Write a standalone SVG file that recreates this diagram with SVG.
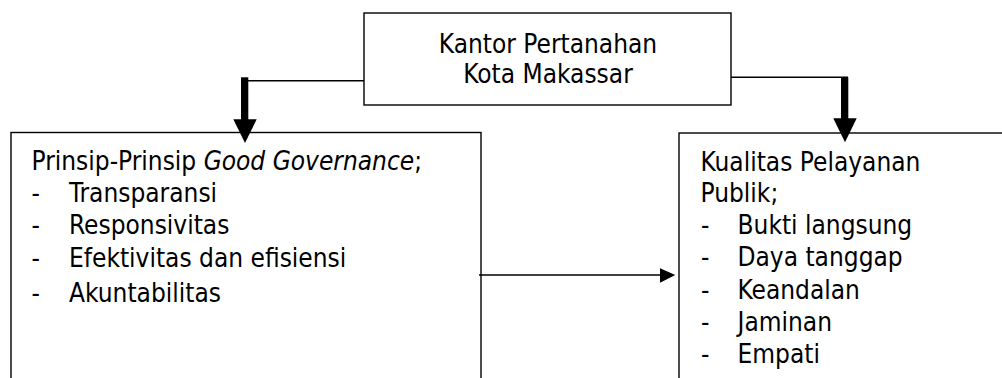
<svg xmlns="http://www.w3.org/2000/svg" width="1002" height="378" viewBox="0 0 1002 378">
<style>
.box{fill:#fff;stroke:#000;stroke-width:1.4}
.t{font-family:"DejaVu Sans Condensed","DejaVu Sans",sans-serif;font-size:26px;fill:#000}
.c{stroke:#000;stroke-width:1.4;fill:none}
.bar{fill:#000}
</style>
<rect width="1002" height="378" fill="#fff"/>
<g id="kantor">
<rect class="box" x="364" y="13" width="367" height="92"/>
<text class="t" x="548" y="52.5" text-anchor="middle">Kantor Pertanahan</text>
<text class="t" x="548" y="82.5" text-anchor="middle">Kota Makassar</text>
</g>
<g id="prinsip">
<rect class="box" x="11" y="132.5" width="470" height="260"/>
<text class="t" x="31.5" y="170">Prinsip-Prinsip <tspan font-style="italic">Good Governance</tspan>;</text>
<text class="t" x="31.5" y="202">-</text><text class="t" x="69" y="202">Transparansi</text>
<text class="t" x="31.5" y="234">-</text><text class="t" x="69" y="234">Responsivitas</text>
<text class="t" x="31.5" y="267">-</text><text class="t" x="69" y="267">Efektivitas dan efisiensi</text>
<text class="t" x="31.5" y="302">-</text><text class="t" x="69" y="302">Akuntabilitas</text>
</g>
<g id="kualitas">
<rect class="box" x="679" y="133" width="340" height="260"/>
<text class="t" x="700.5" y="171">Kualitas Pelayanan</text>
<text class="t" x="700.5" y="202">Publik;</text>
<text class="t" x="701" y="234">-</text><text class="t" x="737.5" y="234">Bukti langsung</text>
<text class="t" x="701" y="266">-</text><text class="t" x="737.5" y="266">Daya tanggap</text>
<text class="t" x="701" y="299">-</text><text class="t" x="737.5" y="299">Keandalan</text>
<text class="t" x="701" y="331">-</text><text class="t" x="737.5" y="331">Jaminan</text>
<text class="t" x="701" y="363">-</text><text class="t" x="737.5" y="363">Empati</text>
</g>
<g id="connectors">
<path class="c" d="M364,80.7 H248"/>
<rect class="bar" x="241" y="77.3" width="7.3" height="43"/>
<polygon class="bar" points="233.3,119.3 256.7,119.3 245,143"/>
<path class="c" d="M731,77.3 H848"/>
<rect class="bar" x="841" y="77.3" width="7.3" height="42"/>
<polygon class="bar" points="833.3,118.3 856.7,118.3 845,142.3"/>
<path class="c" d="M479,275 H661"/>
<polygon class="bar" points="660,268.3 675.3,275 660,282.7"/>
</g>
</svg>
